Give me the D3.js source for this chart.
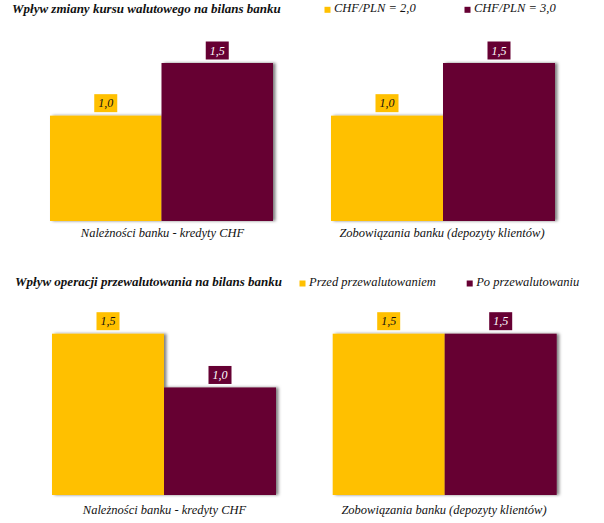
<!DOCTYPE html>
<html><head><meta charset="utf-8">
<script src="https://cdn.jsdelivr.net/npm/d3@7"></script>
<style>body{margin:0;background:#fff}svg{display:block}text{font-family:"Liberation Serif",serif;font-style:italic}</style>
</head><body>
<svg id="c" width="604" height="523"></svg>
<script>
const panelTitles = ["Wpływ zmiany kursu walutowego na bilans banku", "Wpływ operacji przewalutowania na bilans banku"];
const categories = ["Należności banku - kredyty CHF", "Zobowiązania banku (depozyty klientów)"];
const seriesTop = ["CHF/PLN = 2,0", "CHF/PLN = 3,0"];
const seriesBottom = ["Przed przewalutowaniem", "Po przewalutowaniu"];
const valuesTop = [[1.0, 1.5], [1.0, 1.5]];
const valuesBottom = [[1.5, 1.0], [1.5, 1.5]];
const colors = ["#FFC000", "#660033"];
const labelColors = ["#111", "#fff"];

const svg = d3.select("#c");
const defs = svg.append("defs");
const f = defs.append("filter").attr("id", "sh").attr("x", "-10%").attr("y", "-10%").attr("width", "130%").attr("height", "130%");
f.append("feDropShadow").attr("dx", 2.5).attr("dy", 0).attr("stdDeviation", 1.4).attr("flood-color", "#000").attr("flood-opacity", 0.5);

const fmt = v => d3.format(".1f")(v).replace(".", ",");

const panels = [
  {title: panelTitles[0], series: seriesTop, values: valuesTop, titleX: 12, titleY: 13, legX: [324.5, 464.5], legY: 12.3,
   base: 221, top: 63, groups: [[50, 273], [331, 555]], labelY: 237, catCx: [162.5, 442]},
  {title: panelTitles[1], series: seriesBottom, values: valuesBottom, titleX: 15, titleY: 286, legX: [299.5, 466.7], legY: 286,
   base: 495, top: 333.7, groups: [[52, 276], [332.7, 556.7]], labelY: 514, catCx: [164.5, 444]}
];

panels.forEach(p => {
  const g = svg.append("g");
  g.append("text").attr("x", p.titleX).attr("y", p.titleY).attr("font-weight", "bold").attr("font-size", 13).attr("fill", "#111").text(p.title);
  p.series.forEach((s, i) => {
    g.append("rect").attr("x", p.legX[i]).attr("y", p.legY - 5.5).attr("width", 6).attr("height", 6).attr("fill", colors[i]);
    g.append("text").attr("x", p.legX[i] + 9.5).attr("y", p.legY).attr("font-size", 12.5).attr("fill", "#111").text(s);
  });
  const y = d3.scaleLinear().domain([0, 1.5]).range([p.base, p.top]);
  categories.forEach((cat, ci) => {
    const x = d3.scaleBand().domain(p.series).range(p.groups[ci]).paddingInner(0).paddingOuter(0);
    const bars = g.append("g").attr("filter", "url(#sh)");
    p.series.forEach((s, si) => {
      const v = p.values[ci][si];
      bars.append("rect").attr("x", x(s)).attr("y", y(v)).attr("width", x.bandwidth()).attr("height", y(0) - y(v)).attr("fill", colors[si]);
    });
    p.series.forEach((s, si) => {
      const v = p.values[ci][si];
      const cx = x(s) + x.bandwidth() / 2;
      g.append("rect").attr("x", cx - 11.5).attr("y", y(v) - 21.5).attr("width", 23).attr("height", 18).attr("fill", colors[si]);
      g.append("text").attr("x", cx).attr("y", y(v) - 8.5).attr("text-anchor", "middle").attr("font-size", 12).attr("fill", labelColors[si]).text(fmt(v));
    });
    g.append("text").attr("x", p.catCx[ci]).attr("y", p.labelY).attr("text-anchor", "middle").attr("font-size", 12.5).attr("fill", "#111").text(cat);
  });
});
</script>
</body></html>
